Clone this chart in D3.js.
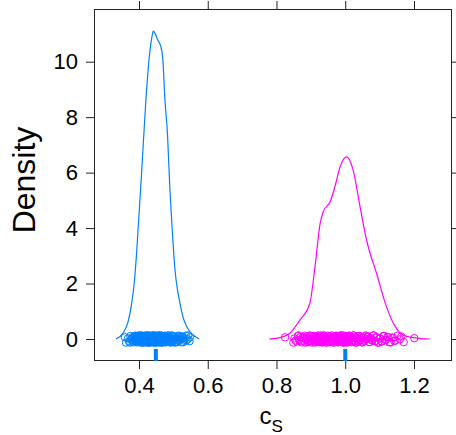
<!DOCTYPE html>
<html>
<head>
<meta charset="utf-8">
<script src="https://cdn.jsdelivr.net/npm/d3@7"></script>
<style>
  body { margin: 0; background: #fff; }
  text { font-family: "Liberation Sans", Arial, Helvetica, sans-serif; }
</style>
</head>
<body>
<div id="chart"></div>
<script>
// density curve, blue group (x = c_s, y = density)
var blueDensX = [0.333, 0.354, 0.368, 0.379, 0.387, 0.393, 0.408, 0.420, 0.432, 0.438, 0.4416, 0.4465, 0.455, 0.4625, 0.469, 0.4756, 0.483, 0.490, 0.495, 0.5047, 0.513, 0.519, 0.528, 0.539, 0.554, 0.5755];
var blueDensY = [0, 0.22, 0.61, 1.30, 2.13, 3.10, 6.09, 8.61, 10.41, 10.92, 11.10, 11.03, 10.77, 10.59, 10.13, 8.61, 7.35, 5.37, 4.29, 2.49, 1.69, 1.30, 0.79, 0.44, 0.18, 0];

// density curve, magenta group
var magDensX = [0.779, 0.810, 0.839, 0.868, 0.897, 0.912, 0.927, 0.936, 0.956, 0.970, 0.985, 1.004, 1.023, 1.043, 1.062, 1.091, 1.120, 1.140, 1.169, 1.203, 1.246];
var magDensY = [0, 0.05, 0.21, 0.68, 1.29, 2.61, 4.17, 4.59, 4.95, 5.49, 6.21, 6.57, 6.09, 4.77, 3.57, 2.37, 1.16, 0.57, 0.14, 0.04, 0];

// raw observations drawn as jittered circles along y = 0
var bluePoints = [0.359, 0.362, 0.368, 0.371, 0.375, 0.378, 0.381, 0.383, 0.386, 0.388, 0.390, 0.392, 0.394, 0.396, 0.397, 0.399,
  0.401, 0.402, 0.404, 0.405, 0.407, 0.408, 0.409, 0.411, 0.412, 0.413, 0.414, 0.416, 0.417, 0.418, 0.419, 0.420, 0.421, 0.422,
  0.423, 0.424, 0.425, 0.426, 0.427, 0.428, 0.429, 0.430, 0.431, 0.432, 0.433, 0.434, 0.435, 0.436, 0.437, 0.438, 0.439, 0.440,
  0.441, 0.442, 0.443, 0.444, 0.445, 0.446, 0.447, 0.448, 0.449, 0.450, 0.451, 0.452, 0.453, 0.454, 0.455, 0.456, 0.457, 0.458,
  0.459, 0.460, 0.461, 0.462, 0.463, 0.465, 0.466, 0.467, 0.469, 0.470, 0.472, 0.473, 0.475, 0.476, 0.478, 0.480, 0.482, 0.484,
  0.486, 0.488, 0.490, 0.492, 0.494, 0.497, 0.499, 0.502, 0.505, 0.508, 0.511, 0.514, 0.517, 0.521, 0.525, 0.529, 0.533, 0.538,
  0.543, 0.547, 0.548,
  0.3745, 0.3795, 0.3845, 0.3875, 0.3895, 0.3915, 0.3935, 0.3955, 0.3975, 0.3985, 0.4005, 0.4015, 0.4035, 0.4045, 0.4065, 0.4075,
  0.4085, 0.4105, 0.4115, 0.4125, 0.4135, 0.4155, 0.4165, 0.4175, 0.4185, 0.4195, 0.4205, 0.4215, 0.4225, 0.4235, 0.4245, 0.4255,
  0.4265, 0.4275, 0.4285, 0.4295, 0.4305, 0.4315, 0.4325, 0.4335, 0.4345, 0.4355, 0.4365, 0.4375, 0.4385, 0.4395, 0.4405, 0.4415,
  0.4425, 0.4435, 0.4445, 0.4455, 0.4465, 0.4475, 0.4485, 0.4495, 0.4505, 0.4515, 0.4525, 0.4535, 0.4545, 0.4555, 0.4565, 0.4575,
  0.4585, 0.4595, 0.4605, 0.4615, 0.4625, 0.4645, 0.4655, 0.4675, 0.4685, 0.4705, 0.4715, 0.4735, 0.4745, 0.4765, 0.4775, 0.4795,
  0.4815, 0.4835, 0.4855, 0.4875, 0.4895, 0.4915, 0.4935, 0.4955, 0.4985, 0.5005, 0.5035, 0.5065, 0.5095, 0.5125, 0.5155, 0.5195,
  0.5235, 0.5275, 0.5315, 0.5365, 0.5415];
var magPoints = [0.825, 0.849, 0.852, 0.858, 0.862, 0.866, 0.870, 0.873, 0.876, 0.879, 0.882, 0.885, 0.888, 0.890, 0.893, 0.895,
  0.897, 0.899, 0.901, 0.903, 0.905, 0.907, 0.909, 0.911, 0.913, 0.915, 0.917, 0.919, 0.920, 0.922, 0.924, 0.925, 0.927, 0.928,
  0.930, 0.931, 0.933, 0.934, 0.936, 0.937, 0.939, 0.940, 0.942, 0.944, 0.945, 0.947, 0.949, 0.951, 0.953, 0.955, 0.957, 0.959,
  0.961, 0.963, 0.965, 0.967, 0.969, 0.971, 0.973, 0.975, 0.977, 0.979, 0.981, 0.982, 0.984, 0.986, 0.987, 0.989, 0.990, 0.992,
  0.993, 0.995, 0.996, 0.998, 0.999, 1.001, 1.002, 1.004, 1.005, 1.007, 1.008, 1.010, 1.012, 1.014, 1.016, 1.018, 1.020, 1.022,
  1.024, 1.027, 1.029, 1.032, 1.035, 1.038, 1.041, 1.044, 1.047, 1.050, 1.053, 1.056, 1.060, 1.063, 1.067, 1.071, 1.075, 1.079,
  1.083, 1.087, 1.092, 1.097, 1.102, 1.107, 1.113, 1.119, 1.125, 1.132, 1.139, 1.146, 1.152, 1.159, 1.163, 1.170, 1.201,
  0.8555, 0.8645, 0.8715, 0.8775, 0.8835, 0.8895, 0.8945, 0.8985, 0.9025, 0.9065, 0.9105, 0.9145, 0.9185, 0.9215, 0.9245, 0.9265,
  0.9295, 0.9325, 0.9355, 0.9385, 0.9415, 0.9435, 0.9465, 0.9495, 0.9525, 0.9555, 0.9585, 0.9615, 0.9645, 0.9675, 0.9705, 0.9735,
  0.9765, 0.9785, 0.9805, 0.9835, 0.9855, 0.9875, 0.9895, 0.9915, 0.9935, 0.9955, 0.9975, 0.9995, 1.0015, 1.0035, 1.0055, 1.0075,
  1.0095, 1.0115, 1.0135, 1.0155, 1.0175, 1.0195, 1.0215, 1.0235, 1.0255, 1.0285, 1.0305, 1.0335, 1.0365, 1.0395, 1.0425, 1.0455,
  1.0485, 1.0515, 1.0545, 1.0585, 1.0615, 1.0655, 1.0695, 1.0735, 1.0775, 1.0815, 1.0855, 1.0905, 1.0955, 1.1005, 1.1055, 1.1105,
  1.1165, 1.1225, 1.1285, 1.1355, 1.1425];
// vertical jitter offsets (density units) applied in turn to the points
var jitterY = [0.06, -0.13, 0.02, -0.09, 0.11, -0.03, 0.07, -0.12, 0.05, -0.06, 0.12, -0.01, 0.09, -0.11, 0.03, -0.05, 0.13, -0.08];

// rug marks under the panel
var rugX = [0.449, 1.0];

var xTicks = [0.4, 0.6, 0.8, 1.0, 1.2];
var yTicks = [0, 2, 4, 6, 8, 10];

var blueCol = "#0080ff",
  magCol = "#ff00ff";

var width = 456,
  height = 435;
var panel = { left: 94, right: 452, top: 9, bottom: 361 };

var svg = d3.select("#chart").append("svg")
  .attr("width", width)
  .attr("height", height);

var x = d3.scaleLinear()
  .domain([0.26909, 1.31055])
  .range([panel.left, panel.right]);

var y = d3.scaleLinear()
  .domain([-0.793, 11.90])
  .range([panel.bottom, panel.top]);

// axes: labelled on left / bottom, ticks only on top / right
svg.append("g")
  .attr("transform", "translate(" + panel.left + ",0)")
  .call(d3.axisLeft(y).tickValues(yTicks).tickSize(8).tickPadding(8).tickFormat(d3.format("d")));
svg.append("g")
  .attr("transform", "translate(0," + panel.bottom + ")")
  .call(d3.axisBottom(x).tickValues(xTicks).tickSize(8).tickPadding(8).tickFormat(d3.format(".1f")));
svg.append("g")
  .attr("transform", "translate(0," + panel.top + ")")
  .call(d3.axisTop(x).tickValues(xTicks).tickSize(8).tickFormat(""));
svg.append("g")
  .attr("transform", "translate(" + panel.right + ",0)")
  .call(d3.axisRight(y).tickValues(yTicks).tickSize(8).tickFormat(""));

svg.selectAll(".domain").remove();
svg.selectAll(".tick line").attr("stroke", "#222");
svg.selectAll(".tick text")
  .attr("fill", "#000")
  .style("font-size", "22px");

svg.append("rect")
  .attr("x", panel.left + 0.5)
  .attr("y", panel.top + 0.5)
  .attr("width", panel.right - panel.left - 1)
  .attr("height", panel.bottom - panel.top - 1)
  .attr("fill", "none")
  .attr("stroke", "#222");

var plot = svg.append("g");

// jittered points
function drawPoints(vals, col) {
  plot.append("g").selectAll("circle")
    .data(vals)
    .enter().append("circle")
      .attr("cx", function(d) { return x(d); })
      .attr("cy", function(d, i) { return y(jitterY[i % jitterY.length]); })
      .attr("r", 3.7)
      .attr("fill", "none")
      .attr("stroke", col)
      .attr("stroke-width", 1);
}
drawPoints(bluePoints, blueCol);
drawPoints(magPoints, magCol);

// density lines
var line = d3.line()
  .x(function(d) { return x(d[0]); })
  .y(function(d) { return y(d[1]); })
  .curve(d3.curveMonotoneX);

plot.append("path")
  .datum(d3.zip(blueDensX, blueDensY))
  .attr("d", line)
  .attr("fill", "none")
  .attr("stroke", blueCol)
  .attr("stroke-width", 1.2);

plot.append("path")
  .datum(d3.zip(magDensX, magDensY))
  .attr("d", line)
  .attr("fill", "none")
  .attr("stroke", magCol)
  .attr("stroke-width", 1.2);

// rug
plot.append("g").selectAll("line")
  .data(rugX)
  .enter().append("line")
    .attr("x1", function(d) { return x(d); })
    .attr("x2", function(d) { return x(d); })
    .attr("y1", panel.bottom - 12)
    .attr("y2", panel.bottom)
    .attr("stroke", blueCol)
    .attr("stroke-width", 4);

// axis titles
svg.append("text")
  .attr("transform", "translate(35," + 180 + ") rotate(-90)")
  .attr("text-anchor", "middle")
  .style("font-size", "32px")
  .attr("fill", "#000")
  .text("Density");

var xlab = svg.append("text")
  .attr("x", 259.5)
  .attr("y", 424)
  .attr("fill", "#000")
  .style("font-size", "24px");
xlab.append("tspan").text("c");
xlab.append("tspan")
  .attr("dy", 7.5)
  .style("font-size", "17px")
  .text("S");
</script>
</body>
</html>
